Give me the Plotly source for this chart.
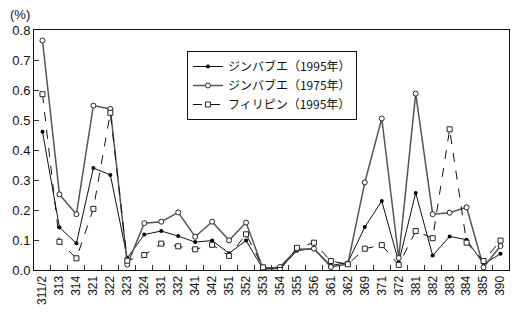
import plotly.graph_objects as go

categories = ["311/2", "313", "314", "321", "322", "323", "324", "331", "332", "341",
              "342", "351", "352", "353", "354", "355", "356", "361", "362", "369",
              "371", "372", "381", "382", "383", "384", "385", "390"]

zimbabwe_1995 = [0.461, 0.142, 0.089, 0.340, 0.317, 0.040, 0.118, 0.130, 0.113, 0.093,
                 0.098, 0.056, 0.098, 0.003, 0.005, 0.064, 0.072, 0.015, 0.025, 0.143,
                 0.230, 0.026, 0.257, 0.048, 0.112, 0.101, 0.020, 0.054]
zimbabwe_1975 = [0.765, 0.252, 0.186, 0.548, 0.537, 0.018, 0.156, 0.161, 0.192, 0.111,
                 0.161, 0.099, 0.158, 0.004, 0.010, 0.069, 0.071, 0.010, 0.020, 0.292,
                 0.505, 0.040, 0.588, 0.186, 0.191, 0.209, 0.009, 0.080]
philippines_1995 = [0.586, 0.094, 0.039, 0.204, 0.524, 0.031, 0.050, 0.088, 0.079, 0.069,
                    0.084, 0.047, 0.119, 0.009, 0.000, 0.074, 0.091, 0.030, 0.019, 0.071,
                    0.083, 0.017, 0.130, 0.106, 0.469, 0.091, 0.030, 0.098]

names = ["ジンバブエ（1995年）", "ジンバブエ（1975年）", "フィリピン（1995年）"]

FONT = "Liberation Sans, Arial, Noto Sans CJK JP"

fig = go.Figure()
fig.add_trace(go.Scatter(
    x=categories, y=zimbabwe_1995, name=names[0], mode="lines+markers",
    line=dict(color="#111111", width=1),
    marker=dict(symbol="circle", size=4, color="#000000")))
fig.add_trace(go.Scatter(
    x=categories, y=zimbabwe_1975, name=names[1], mode="lines+markers",
    line=dict(color="#555555", width=1.5),
    marker=dict(symbol="circle", size=5, color="white", line=dict(width=1, color="#222222"))))
fig.add_trace(go.Scatter(
    x=categories, y=philippines_1995, name=names[2], mode="lines+markers",
    line=dict(color="#111111", width=1, dash="dash"),
    marker=dict(symbol="square", size=5, color="white", line=dict(width=1, color="#222222"))))

fig.update_layout(
    width=519, height=316,
    margin=dict(l=34, r=10, t=30, b=46),
    paper_bgcolor="white", plot_bgcolor="white",
    font=dict(family=FONT, size=13, color="#111111"),
    showlegend=True,
    legend=dict(x=0.322, y=0.9125, xanchor="left", yanchor="top",
                bordercolor="#111111", borderwidth=1, bgcolor="white",
                font=dict(size=12, family="Noto Sans CJK JP, Liberation Sans"),
                tracegroupgap=0, itemwidth=30),
    xaxis=dict(type="category", range=[-0.5, 27.5], tickangle=-90,
               tickson="boundaries", ticks="inside", ticklen=5, tickcolor="#333333",
               showline=True, linecolor="#111111", linewidth=1, mirror=True,
               showgrid=False, tickfont=dict(size=12)),
    yaxis=dict(range=[0, 0.8], dtick=0.1, tickformat=".1f",
               ticks="inside", ticklen=5, tickcolor="#333333",
               showline=True, linecolor="#111111", linewidth=1, mirror=True,
               showgrid=False, zeroline=False, tickfont=dict(size=13)),
    annotations=[dict(text="(%)", xref="paper", yref="paper", x=-0.03, y=1.065,
                      xanchor="center", yanchor="middle", showarrow=False,
                      font=dict(size=13))],
)

fig.write_html("out.html")
